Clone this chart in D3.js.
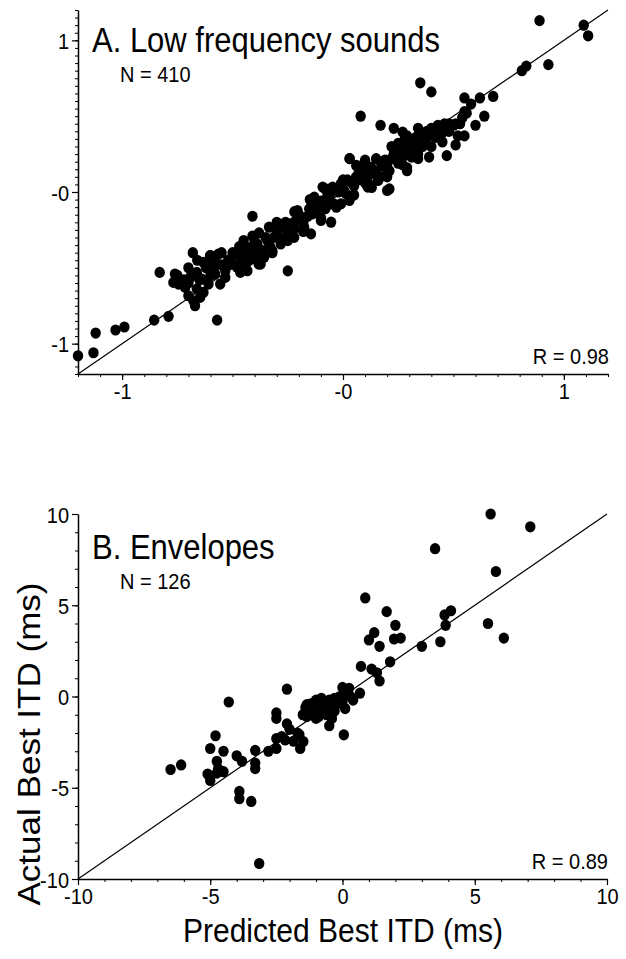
<!DOCTYPE html>
<html><head><meta charset="utf-8">
<script src="https://cdn.jsdelivr.net/npm/d3@7"></script>
<style>
html,body{margin:0;padding:0;background:#fff;}
text{font-family:"Liberation Sans",Arial,sans-serif;fill:#000;}
</style></head>
<body><svg id="chart" width="626" height="959"></svg>
<script>
// ---- Panel A: Low frequency sounds (predicted vs actual) ----
const lowX = [0.89,1.09,1.11,0.93,0.81,0.83,0.68,0.62,0.55,0.58,0.64,0.55,0.54,0.51,0.48,0.60,
 0.35,0.40,0.08,0.17,0.23,0.27,0.47,0.51,0.52,0.55,0.53,0.56,0.29,0.39,0.21,0.03,0.06,0.10,
 0.19,0.23,0.26,0.30,0.33,0.355,0.38,0.40,0.43,0.46,0.33,0.31,0.25,0.14,0.11,0.07,-0.01,-0.02,0.16,0.13,0.27,0.36,0.42,0.45,0.47,0.50,0.21,0.17,0.09,0.29,0.34,0.25,0.29,0.42,
 -0.41,-0.41,-0.25,0.03,0.20,
 -0.494,-0.464,-0.448,-0.418,-0.388,-0.365,-0.357,-0.342,-0.312,-0.297,-0.282,-0.267,-0.251,-0.236,-0.214,-0.206,-0.191,-0.176,-0.153,-0.138,-0.130,-0.115,-0.100,-0.085,-0.070,-0.054,-0.047,-0.024,-0.009,0.014,0.029,0.036,0.059,0.082,0.097,0.112,0.127,0.143,0.158,0.173,0.196,0.203,-0.32,-0.373,-0.433,-0.479,-0.092,-0.054,-0.009,-0.145,-0.221,-0.335,
 -1.2,-1.13,-1.12,-1.03,-0.99,-0.855,-0.79,-0.57,-0.83,-0.68,-0.67,
 -0.761,-0.768,-0.745,-0.715,-0.70,-0.677,-0.662,-0.692,-0.662,-0.632,-0.639,-0.602,-0.564,-0.594,-0.579,-0.556,-0.533,-0.503,-0.488,-0.458,-0.465,-0.427,-0.412,-0.397,-0.382,-0.609,-0.647,-0.632,-0.533,-0.586,
 -0.47,-0.44,-0.40,-0.38,-0.35,-0.33,-0.30,-0.28,-0.26,-0.24,-0.22,-0.20,-0.18,-0.16,-0.14,-0.12,-0.10,-0.08,-0.06,-0.04,-0.02,0.00,0.02,0.05,0.07,0.10,0.12,0.15,0.18,0.20,0.22,0.24,0.27,0.30,0.32,0.35,0.37,0.39,0.41,0.44,0.48,
 -0.52,-0.55,-0.58,-0.60,-0.62,-0.65,-0.70,-0.72,-0.50,-0.45,
 -0.45,-0.38,-0.30,-0.22,-0.15,-0.08,0.00,0.08,0.15,0.22,0.28,0.34,
 -0.40,-0.32,-0.25,-0.18,-0.10,-0.03,0.05,0.12,0.20,0.27,0.34,0.40,0.45,
 -0.75,-0.70,-0.66,-0.60,-0.55];
const lowY = [1.13,1.10,1.03,0.84,0.80,0.83,0.63,0.62,0.62,0.58,0.50,0.53,0.49,0.45,0.45,0.44,
 0.72,0.66,0.50,0.44,0.42,0.395,0.24,0.31,0.37,0.37,0.45,0.52,0.14,0.23,0.02,0.22,0.175,0.21,
 0.21,0.25,0.27,0.33,0.36,0.35,0.40,0.42,0.44,0.45,0.30,0.23,0.19,0.14,0.10,0.08,0.05,0.01,0.08,0.03,0.23,0.30,0.36,0.39,0.42,0.44,0.14,0.10,0.14,0.16,0.25,0.32,0.37,0.41,
 -0.16,-0.29,-0.52,0.22,0.01,
 -0.409,-0.453,-0.387,-0.365,-0.343,-0.387,-0.431,-0.321,-0.299,-0.254,-0.343,-0.232,-0.276,-0.210,-0.188,-0.122,-0.166,-0.232,-0.111,-0.144,-0.034,-0.078,-0.188,-0.056,-0.012,-0.199,0.032,0.010,0.054,-0.012,-0.056,0.065,0.098,0.142,0.076,0.032,0.164,0.120,0.076,0.186,0.208,0.142,-0.387,-0.475,-0.519,-0.497,0.032,-0.078,-0.078,-0.276,-0.299,-0.232,
 -1.08,-1.06,-0.93,-0.91,-0.89,-0.845,-0.82,-0.845,-0.53,-0.40,-0.75,
 -0.541,-0.596,-0.607,-0.629,-0.684,-0.717,-0.64,-0.563,-0.53,-0.464,-0.574,-0.42,-0.409,-0.475,-0.541,-0.607,-0.519,-0.475,-0.409,-0.442,-0.53,-0.453,-0.387,-0.354,-0.475,-0.607,-0.695,-0.662,-0.563,-0.508,
 -0.36,-0.42,-0.33,-0.40,-0.30,-0.36,-0.26,-0.31,-0.20,-0.26,-0.24,-0.15,-0.20,-0.16,-0.08,-0.13,-0.06,-0.11,-0.03,-0.08,0.00,0.02,0.08,0.04,0.12,0.06,0.15,0.12,0.17,0.18,0.22,0.28,0.30,0.28,0.34,0.39,0.33,0.37,0.39,0.41,0.40,
 -0.45,-0.48,-0.46,-0.55,-0.50,-0.58,-0.60,-0.58,-0.40,-0.48,
 -0.32,-0.27,-0.20,-0.13,-0.05,0.02,0.08,0.17,0.22,0.30,0.35,0.42,
 -0.44,-0.40,-0.32,-0.26,-0.17,-0.10,-0.02,0.05,0.10,0.18,0.22,0.30,0.33,
 -0.55,-0.50,-0.45,-0.42,-0.40];
const lowMajorTicks = [-1, 0, 1];
const lowTickLabels = ["-1", "-0", "1"];

// ---- Panel B: Envelopes ----
const envX = [5.6,7.1,3.5,5.8,0.86,1.67,4.1,3.86,3.9,5.5,6.1,2.0,1.2,1.0,2.2,1.95,1.4,3.0,3.7,0.7,1.8,1.1,1.3,1.4,0.66,0.0,0.25,0.4,0.1,-1.0,-0.5,0.05,
 -1.2,-1.1,-0.9,-0.8,-0.7,-0.6,-0.5,-0.4,-0.3,-0.2,-0.1,0.0,0.2,-0.9,-1.3,-0.6,-0.3,0.1,-1.0,-0.8,-0.4,-1.2,-0.7,-0.2,0.3,-1.5,-1.4,-0.9,
 -2.1,-4.3,-2.5,-2.5,-2.1,-2.0,-1.7,-1.35,-1.35,-2.5,-2.3,-2.17,-1.85,-1.63,-1.48,-1.6,-2.5,-2.8,-3.3,-3.3,-3.3,-3.8,-4.0,-3.9,-3.9,-3.45,-3.15,-4.8,-5.0,-4.5,-4.75,-4.7,-4.5,-5.1,-5.0,-4.75,-6.5,-6.1];
const envY = [10.0,9.3,8.1,6.85,5.4,4.65,4.7,4.47,3.9,4.0,3.2,3.9,3.5,3.1,3.2,3.15,2.75,2.75,3.0,1.65,1.9,1.5,1.3,0.85,0.18,0.5,0.45,-0.2,-0.66,-0.2,-1.6,-2.1,
 -0.4,-0.8,-0.5,-0.9,-0.3,-0.6,-0.2,-0.5,-0.1,-0.4,0.0,-0.3,0.1,-1.1,-0.7,-1.0,-0.8,0.2,-1.2,-0.1,-1.2,-1.0,-0.7,-0.2,0.0,-1.0,-0.6,-0.3,
 0.4,-0.3,-0.9,-1.2,-1.5,-1.8,-2.0,-0.45,-1.1,-2.3,-2.2,-2.38,-2.45,-2.1,-2.47,-2.85,-2.85,-3.0,-2.95,-3.65,-3.95,-3.55,-3.25,-5.2,-5.6,-5.75,-9.15,-2.15,-2.85,-3.0,-3.55,-3.95,-4.12,-4.25,-4.6,-4.2,-4.0,-3.75];
const envMajorTicks = [-10, -5, 0, 5, 10];
const envTickLabels = ["-10", "-5", "0", "5", "10"];

const FONT = '"Liberation Sans",Arial,sans-serif';
const SY = 1.13; // glyphs in the reference are slightly taller than wide
const svg = d3.select("#chart");

function label(x, y, size, txt, anchor) {
  svg.append("text").attr("transform", `translate(${x},${y}) scale(1,${SY})`)
    .attr("text-anchor", anchor || "start").style("font-size", size + "px").text(txt);
}

function panel(cfg) {
  const x = d3.scaleLinear().domain(cfg.domain).range(cfg.xr);
  const y = d3.scaleLinear().domain(cfg.domain).range(cfg.yr);
  const g = svg.append("g");
  const fmt = d => cfg.labels[cfg.major.indexOf(d)];
  g.append("g").attr("transform", `translate(0,${cfg.yr[0]})`)
    .call(d3.axisBottom(x).tickValues(cfg.minorX).tickSize(3).tickFormat(""))
    .call(a => a.select(".domain").remove());
  g.append("g").attr("transform", `translate(${cfg.xr[0]},0)`)
    .call(d3.axisLeft(y).tickValues(cfg.minorY).tickSize(3).tickFormat(""))
    .call(a => a.select(".domain").remove());
  const ax = g.append("g").attr("transform", `translate(0,${cfg.yr[0]})`)
    .call(d3.axisBottom(x).tickValues(cfg.major).tickSize(6).tickSizeOuter(0).tickPadding(2).tickFormat(fmt));
  const ay = g.append("g").attr("transform", `translate(${cfg.xr[0]},0)`)
    .call(d3.axisLeft(y).tickValues(cfg.major).tickSize(6).tickSizeOuter(0).tickPadding(3).tickFormat(fmt));
  [ax, ay].forEach(a => {
    a.selectAll("text").style("font-size", "20px").style("font-family", FONT)
      .attr("transform", `scale(1,${SY})`);
    a.select(".domain").attr("stroke-width", 1.5);
    a.selectAll(".tick line").attr("stroke-width", 1.2);
  });
  ay.selectAll("text").attr("dy", "0.36em");
  g.selectAll(".tick line").attr("stroke", "#000");
  g.append("line")
    .attr("x1", x(cfg.domain[0])).attr("y1", y(cfg.domain[0]))
    .attr("x2", x(cfg.domain[1])).attr("y2", y(cfg.domain[1]))
    .attr("stroke", "#000").attr("stroke-width", 1.2);
  g.append("g").selectAll("ellipse").data(cfg.xs.map((v, i) => [v, cfg.ys[i]]))
    .join("ellipse").attr("cx", d => x(d[0])).attr("cy", d => y(d[1]))
    .attr("rx", 5.2).attr("ry", 5.6).attr("fill", "#000");
  label(92, cfg.titleY, 31, cfg.title);
  label(120, cfg.titleY + 30, 20, cfg.n);
  label(cfg.xr[1] + 1, cfg.yr[0] - 10, 20, cfg.r, "end");
}

panel({
  domain: [-1.2, 1.2], xr: [78, 608], yr: [374, 10],
  major: lowMajorTicks, labels: lowTickLabels,
  minorX: d3.range(-12, 13).map(i => i / 10),
  minorY: d3.range(-24, 25).map(i => i / 20),
  xs: lowX, ys: lowY,
  title: "A. Low frequency sounds", titleY: 52, n: "N = 410", r: "R = 0.98"
});
panel({
  domain: [-10, 10], xr: [78, 607], yr: [879, 514],
  major: envMajorTicks, labels: envTickLabels,
  minorX: d3.range(-10, 11),
  minorY: d3.range(-10, 11),
  xs: envX, ys: envY,
  title: "B. Envelopes", titleY: 559, n: "N = 126", r: "R = 0.89"
});

label(343, 942, 30, "Predicted Best ITD (ms)", "middle");
svg.append("text").attr("transform", `translate(40,744) rotate(-90) scale(${SY},1)`)
  .attr("text-anchor", "middle").style("font-size", "31px").text("Actual Best ITD (ms)");
</script></body></html>
